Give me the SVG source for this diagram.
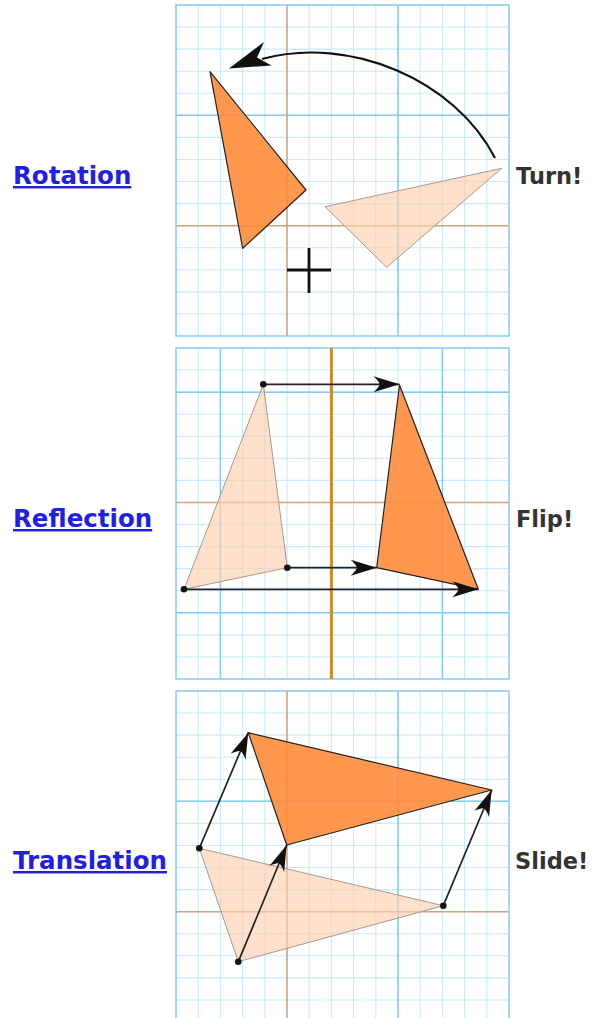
<svg xmlns="http://www.w3.org/2000/svg" xmlns:xlink="http://www.w3.org/1999/xlink" width="595" height="1018" viewBox="0 0 595 1018">
<style>
.minor{stroke:#c8eafc;stroke-width:1.1;fill:none}
.major{stroke:#84ccf4;stroke-width:1.5;fill:none}
.axis{stroke:#cfa477;stroke-width:1.5;fill:none}
.mirror{stroke:#d08a26;stroke-width:3;fill:none}
.img{fill:#ff8a35;fill-opacity:0.88;stroke:#222;stroke-width:1.2;stroke-linejoin:round}
.pre{fill:#ffcfae;fill-opacity:0.65;stroke:#a89890;stroke-width:1;stroke-linejoin:round}
.arr{stroke:#222;stroke-width:1.7;fill:none;marker-end:url(#ah)}
.dot{fill:#111}
.link{font-family:"DejaVu Sans",Verdana,sans-serif;font-weight:bold;font-size:24.5px;fill:#1f1fe8;text-decoration:underline}
.word{font-family:"DejaVu Sans",Verdana,sans-serif;font-weight:bold;font-size:22.5px;fill:#333}
</style>
<defs>
<marker id="ah" markerUnits="userSpaceOnUse" markerWidth="32" markerHeight="22" viewBox="-29 -11 30 22" refX="0" refY="0" orient="auto">
<path d="M0,0 L-26,-8 Q-20,-2.5 -20,0 Q-20,2.5 -26,8 Z" fill="#111"/>
</marker>
<path id="minorgrid" class="minor" d="M22.2,0V331M44.4,0V331M66.6,0V331M88.8,0V331M111,0V331M133.2,0V331M155.4,0V331M177.6,0V331M199.8,0V331M222,0V331M244.2,0V331M266.4,0V331M288.6,0V331M310.8,0V331M0,22.07H333M0,44.13H333M0,66.2H333M0,88.27H333M0,110.33H333M0,132.4H333M0,154.47H333M0,176.53H333M0,198.6H333M0,220.67H333M0,242.73H333M0,264.8H333M0,286.87H333M0,308.93H333"/>
<g id="grid13">
<use xlink:href="#minorgrid"/>
<path class="major" d="M222,0V331M0,110.33H333"/>
<rect class="major" x="0" y="0" width="333" height="331"/>
<path class="axis" d="M111,0V331M0,220.67H333"/>
</g>
<g id="grid2">
<use xlink:href="#minorgrid"/>
<path class="major" d="M44.4,0V331M266.4,0V331M0,44.13H333M0,264.8H333"/>
<rect class="major" x="0" y="0" width="333" height="331"/>
<path class="axis" d="M0,154.47H333"/>
</g>
</defs>

<g id="panel-rotation">
<use xlink:href="#grid13" transform="translate(176,5)"/>
<polygon class="pre" points="325,206.7 501.7,168.3 386.7,267.3"/>
<polygon class="img" points="210,71.7 306,190 242.7,248.3"/>
<path d="M287,270H331M309,248V293" stroke="#111" stroke-width="2.8" fill="none"/>
<text class="link" x="13" y="184">Rotation</text>
<text class="word" x="516" y="184">Turn!</text>
</g>

<g id="panel-reflection">
<use xlink:href="#grid2" transform="translate(176,348)"/>
<path class="mirror" d="M331.4,348V679"/>
<polygon class="pre" points="263.3,384.3 287.3,567.7 184,589.3"/>
<polygon class="img" points="399.5,385 376.7,567.7 478.3,589.3"/>
<text class="link" x="13" y="527">Reflection</text>
<text class="word" x="516" y="527">Flip!</text>
</g>

<g id="panel-translation">
<use xlink:href="#grid13" transform="translate(176,691)"/>
<polygon class="pre" points="199.3,848.3 443.3,905.7 238.3,961.7"/>
<polygon class="img" points="248.3,732.7 491.7,790 286.7,845"/>
<text class="link" x="13" y="869">Translation</text>
<text class="word" x="515" y="869">Slide!</text>
</g>

<g id="connectors">
<path d="M495,158 C455,80 350,35 262,59" stroke="#111" stroke-width="2.2" fill="none"/>
<path d="M229,68.5 L264,42 L257,57.5 L271.5,65.5 Z" fill="#111"/>
<line class="arr" x1="263.3" y1="384.3" x2="399.5" y2="384.3"/>
<line class="arr" x1="287.3" y1="567.7" x2="376.7" y2="567.7"/>
<line class="arr" x1="184" y1="589.3" x2="478.3" y2="589.3"/>
<circle class="dot" cx="263.3" cy="384.3" r="3.3"/>
<circle class="dot" cx="287.3" cy="567.7" r="3.3"/>
<circle class="dot" cx="184" cy="589.3" r="3.3"/>
<line class="arr" x1="199.3" y1="848.3" x2="248.3" y2="732.7"/>
<line class="arr" x1="443.3" y1="905.7" x2="491.7" y2="790"/>
<line class="arr" x1="238.3" y1="961.7" x2="286.7" y2="845"/>
<circle class="dot" cx="199.3" cy="848.3" r="3.3"/>
<circle class="dot" cx="443.3" cy="905.7" r="3.3"/>
<circle class="dot" cx="238.3" cy="961.7" r="3.3"/>
</g>
</svg>
